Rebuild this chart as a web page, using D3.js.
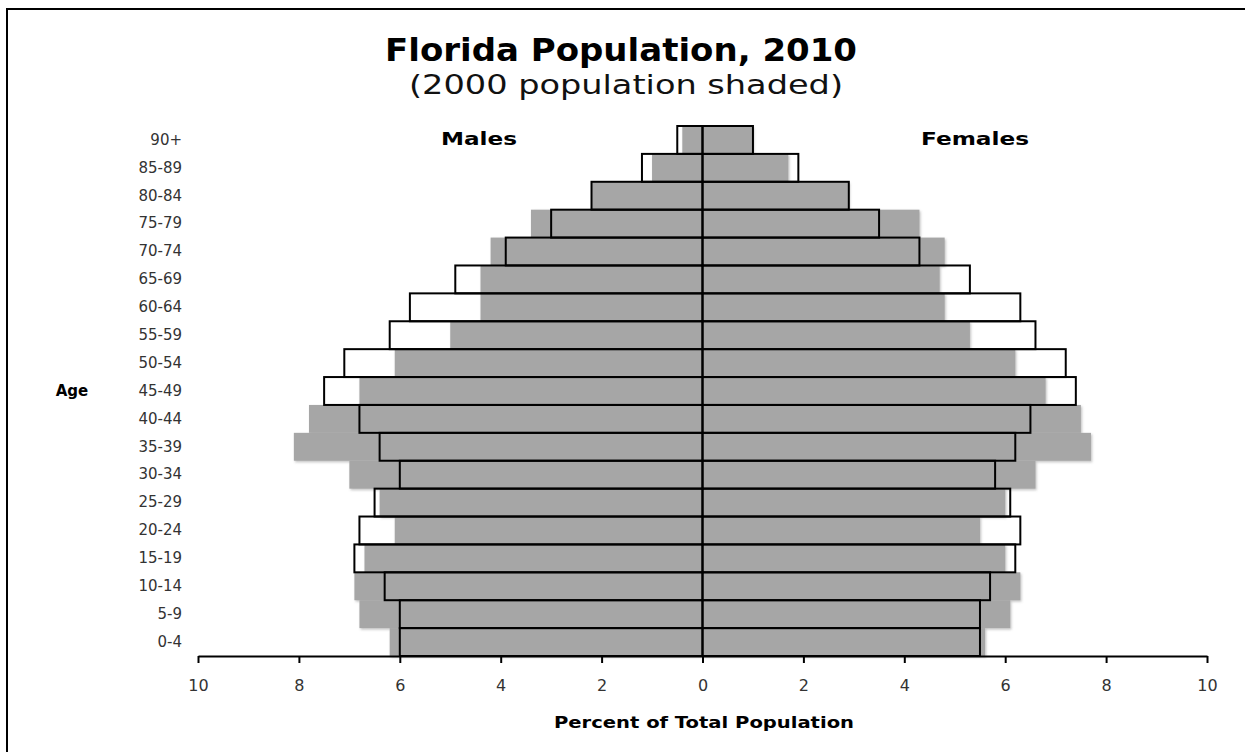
<!DOCTYPE html>
<html>
<head>
<meta charset="utf-8">
<script src="https://cdn.jsdelivr.net/npm/d3@7"></script>
<style>
  html, body { margin: 0; padding: 0; background: #fff; }
  svg { display: block; }
  text { font-family: "DejaVu Sans", Verdana, sans-serif; }
</style>
</head>
<body>
<svg id="chart" width="1245" height="752"></svg>
<script>
const ages = ["90+","85-89","80-84","75-79","70-74","65-69","60-64","55-59","50-54","45-49","40-44","35-39","30-34","25-29","20-24","15-19","10-14","5-9","0-4"];
const males2010   = [0.5,1.2,2.2,3.0,3.9,4.9,5.8,6.2,7.1,7.5,6.8,6.4,6.0,6.5,6.8,6.9,6.3,6.0,6.0];
const males2000   = [0.4,1.0,2.2,3.4,4.2,4.4,4.4,5.0,6.1,6.8,7.8,8.1,7.0,6.4,6.1,6.7,6.9,6.8,6.2];
const females2010 = [1.0,1.9,2.9,3.5,4.3,5.3,6.3,6.6,7.2,7.4,6.5,6.2,5.8,6.1,6.3,6.2,5.7,5.5,5.5];
const females2000 = [1.0,1.7,2.9,4.3,4.8,4.7,4.8,5.3,6.2,6.8,7.5,7.7,6.6,6.0,5.5,6.0,6.3,6.1,5.6];
const xTicks = [-10,-8,-6,-4,-2,0,2,4,6,8,10];
const titleText = "Florida Population, 2010";
const subtitleText = "(2000 population shaded)";
const maleLabel = "Males", femaleLabel = "Females";
const yTitle = "Age", xTitle = "Percent of Total Population";

const svg = d3.select("#chart");

// outer frame
svg.append("rect").attr("x", 7).attr("y", 9).attr("width", 1260).attr("height", 760)
  .attr("fill", "none").attr("stroke", "#000").attr("stroke-width", 2);

const x = d3.scaleLinear().domain([-10, 10]).range([198, 1207]);
const y = d3.scaleBand().domain(ages).range([126, 656]).padding(0);

const defs = svg.append("defs");
const f = defs.append("filter").attr("id", "soft").attr("x", "-5%").attr("y", "-20%").attr("width", "110%").attr("height", "150%");
f.append("feDropShadow").attr("dx", 1.2).attr("dy", 1.5).attr("stdDeviation", 1)
  .attr("flood-color", "#7a7a7a").attr("flood-opacity", 0.45);

const rows = ages.map((a, i) => ({age: a, m10: males2010[i], m00: males2000[i], f10: females2010[i], f00: females2000[i]}));

// 2000 shaded bars
const shaded = svg.append("g").attr("filter", "url(#soft)");
shaded.selectAll("rect.m00").data(rows).join("rect")
  .attr("x", d => x(-d.m00)).attr("y", d => y(d.age))
  .attr("width", d => x(0) - x(-d.m00)).attr("height", y.bandwidth())
  .attr("fill", "#a6a6a6");
shaded.selectAll("rect.f00").data(rows).join("rect")
  .attr("x", x(0)).attr("y", d => y(d.age))
  .attr("width", d => x(d.f00) - x(0)).attr("height", y.bandwidth())
  .attr("fill", "#a6a6a6");

// 2010 outlined bars
const outl = svg.append("g");
outl.selectAll("rect.m10").data(rows).join("rect")
  .attr("x", d => x(-d.m10)).attr("y", d => y(d.age))
  .attr("width", d => x(0) - x(-d.m10)).attr("height", y.bandwidth())
  .attr("fill", "none").attr("stroke", "#000").attr("stroke-width", 2);
outl.selectAll("rect.f10").data(rows).join("rect")
  .attr("x", x(0)).attr("y", d => y(d.age))
  .attr("width", d => x(d.f10) - x(0)).attr("height", y.bandwidth())
  .attr("fill", "none").attr("stroke", "#000").attr("stroke-width", 2);

// x axis
const xAxis = svg.append("g").attr("transform", "translate(0,656)")
  .call(d3.axisBottom(x).tickValues(xTicks).tickFormat(d => Math.abs(d)).tickSize(7).tickSizeOuter(0).tickPadding(17));
xAxis.select(".domain").attr("stroke", "#000").attr("stroke-width", 2);
xAxis.selectAll(".tick line").attr("stroke", "#000").attr("stroke-width", 2);
xAxis.selectAll(".tick text").attr("font-family", "DejaVu Sans").attr("font-size", 16).attr("fill", "#333");

// y axis labels
const yAxis = svg.append("g").attr("transform", "translate(182,0)")
  .call(d3.axisLeft(y).tickSize(0).tickPadding(0));
yAxis.select(".domain").remove();
yAxis.selectAll(".tick text").attr("font-family", "DejaVu Sans").attr("font-size", 15).attr("fill", "#333");

// titles
function stretched(sel, len) {
  sel.attr("textLength", len).attr("lengthAdjust", "spacingAndGlyphs");
}
svg.append("text").attr("x", 621).attr("y", 61).attr("text-anchor", "middle")
  .attr("font-size", 32).attr("font-weight", "bold").text(titleText).call(stretched, 472);
svg.append("text").attr("x", 626).attr("y", 94).attr("text-anchor", "middle")
  .attr("font-size", 27).attr("fill", "#111").text(subtitleText).call(stretched, 434);

svg.append("text").attr("x", 479).attr("y", 145).attr("text-anchor", "middle")
  .attr("font-size", 17).attr("font-weight", "bold").text(maleLabel).call(stretched, 76);
svg.append("text").attr("x", 975).attr("y", 145).attr("text-anchor", "middle")
  .attr("font-size", 17).attr("font-weight", "bold").text(femaleLabel).call(stretched, 108);

svg.append("text").attr("x", 72).attr("y", 396).attr("text-anchor", "middle")
  .attr("font-size", 15).attr("font-weight", "bold").text(yTitle);
svg.append("text").attr("x", 704).attr("y", 728).attr("text-anchor", "middle")
  .attr("font-size", 16).attr("font-weight", "bold").text(xTitle).call(stretched, 300);
</script>
</body>
</html>
